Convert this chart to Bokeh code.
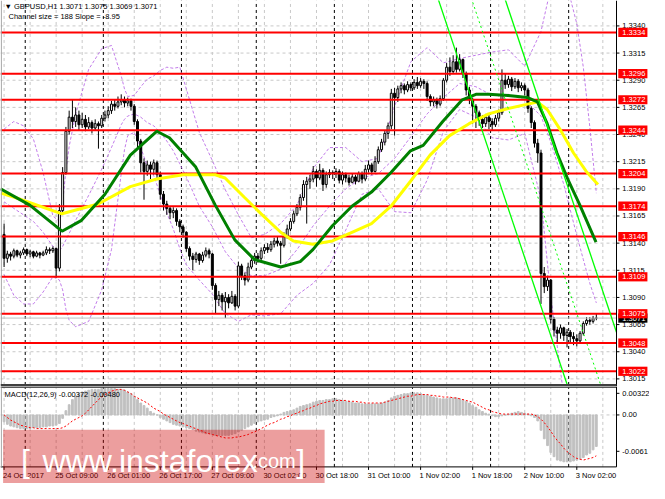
from bokeh.plotting import figure
from bokeh.models import Range1d, ColumnDataSource
from bokeh.layouts import column
from bokeh.core.properties import value
from bokeh.embed import file_html
from bokeh.resources import INLINE

FONT = "Liberation Sans"
FS = "7.5px"

# ---------------- data ----------------
symbol_title = "\u25BC GBPUSD,H1  1.3071 1.3075 1.3069 1.3071"
channel_title = "Channel size = 188 Slope = -8.95"
macd_title = "MACD(12,26,9) -0.00372 -0.00480"

# prices in pips above 1.3000
first_open_pips = 148
close_pips = [126, 130, 128, 133, 129, 131, 134, 130, 132, 128, 131, 129, 131, 134, 133, 135, 117, 170, 205, 243,
              256, 252, 258, 249, 254, 247, 251, 246, 250, 248, 255, 258, 262, 268, 266, 270, 272, 269, 271, 266,
              252, 234, 214, 206, 212, 208, 214, 203, 185, 176, 172, 168, 170, 160, 155, 150, 135, 128, 125, 130,
              124, 129, 133, 130, 101, 88, 92, 86, 90, 85, 91, 82, 119, 110, 106, 118, 124, 128, 126, 133,
              136, 134, 139, 142, 140, 138, 146, 153, 160, 167, 173, 182, 194, 197, 199, 206, 200, 207, 194, 203,
              205, 204, 206, 198, 203, 200, 196, 201, 197, 204, 199, 208, 212, 206, 215, 226, 233, 241, 248, 278,
              274, 282, 285, 281, 286, 283, 288, 285, 289, 287, 275, 270, 272, 268, 273, 290, 302, 298, 307, 300,
              309, 296, 281, 272, 266, 260, 254, 250, 256, 252, 249, 255, 260, 290, 286, 291, 284, 289, 283, 285,
              281, 264, 251, 232, 223, 112, 100, 106, 70, 60, 57, 62, 55, 58, 54, 52, 50, 57, 66, 69,
              68, 71, 71]
high_pips = [158, 133, 132, 135, 134, 133, 136, 135, 134, 133, 133, 132, 133, 137, 136, 137, 136, 176, 210, 247,
             262, 272, 265, 262, 260, 258, 256, 253, 254, 252, 258, 262, 266, 271, 272, 275, 277, 275, 274, 273,
             268, 254, 236, 218, 216, 215, 217, 216, 206, 188, 179, 174, 173, 172, 162, 157, 151, 137, 131, 132,
             131, 132, 136, 135, 131, 103, 96, 94, 95, 93, 96, 93, 123, 121, 113, 122, 127, 131, 131, 136,
             139, 140, 142, 145, 146, 142, 150, 157, 163, 170, 176, 185, 198, 201, 203, 211, 208, 213, 209, 206,
             208, 207, 209, 208, 206, 205, 203, 204, 203, 206, 206, 212, 216, 214, 220, 229, 236, 244, 251, 282,
             283, 285, 288, 287, 289, 288, 291, 293, 292, 291, 289, 277, 275, 274, 276, 292, 306, 311, 313, 320,
             314, 310, 298, 284, 274, 268, 262, 258, 259, 258, 255, 258, 263, 300, 296, 294, 293, 292, 291, 288,
             287, 283, 266, 253, 236, 226, 118, 110, 107, 72, 63, 65, 63, 61, 60, 58, 56, 59, 68, 72,
             72, 73, 75]
low_pips = [118, 122, 124, 126, 127, 126, 129, 128, 127, 126, 127, 126, 128, 129, 130, 131, 108, 114, 168, 203,
            240, 246, 247, 244, 246, 243, 245, 241, 244, 227, 246, 252, 255, 259, 262, 264, 267, 265, 266, 262,
            249, 228, 205, 180, 202, 199, 203, 198, 180, 170, 166, 162, 163, 156, 150, 145, 132, 124, 115, 122,
            120, 122, 127, 126, 97, 75, 82, 78, 71, 80, 84, 78, 80, 106, 101, 104, 116, 121, 122, 124,
            130, 131, 132, 136, 137, 121, 136, 144, 151, 158, 165, 170, 179, 158, 190, 196, 192, 198, 188, 191,
            200, 199, 200, 195, 194, 196, 193, 195, 194, 196, 195, 197, 205, 203, 205, 213, 224, 230, 236, 245,
            239, 270, 278, 277, 279, 280, 281, 282, 283, 282, 271, 266, 266, 264, 266, 271, 288, 294, 296, 297,
            298, 292, 276, 268, 250, 246, 248, 246, 247, 245, 244, 247, 252, 258, 282, 283, 280, 282, 279, 280,
            276, 260, 246, 228, 214, 84, 94, 96, 66, 54, 48, 52, 50, 44, 49, 46, 45, 48, 55, 64,
            65, 66, 69]

# MACD main / signal in units of 1e-4
macd_e4 = [-8, -11, -13, -14, -15, -16, -16, -16, -16, -15, -15, -15, -14, -14, -13, -13, -12, -10, -4, 5,
           12, 18, 22, 25, 27, 28, 29, 30, 30, 30, 31, 31, 31, 31, 31, 30, 30, 29, 27, 25,
           22, 18, 14, 11, 8, 4, 2, 0, -3, -5, -7, -9, -11, -12, -13, -14, -15, -16, -17, -19,
           -20, -21, -22, -22, -23, -24, -24, -24, -24, -24, -23, -22, -20, -18, -16, -14, -12, -10, -8, -7,
           -6, -5, -3, -2, -1, 1, 3, 4, 5, 6, 8, 10, 11, 12, 13, 15, 16, 17, 17, 18,
           18, 19, 19, 18, 17, 16, 16, 15, 14, 14, 13, 13, 13, 13, 13, 13, 14, 15, 17, 20,
           22, 23, 24, 25, 25, 26, 26, 26, 25, 24, 23, 22, 21, 20, 19, 19, 19, 20, 20, 20,
           19, 18, 16, 14, 11, 9, 6, 4, 2, 1, -1, -2, -2, -1, 0, 1, 2, 3, 4, 3,
           2, 1, -1, -3, -7, -18, -28, -36, -44, -49, -53, -54, -55, -55, -55, -54, -53, -52, -50, -47,
           -45, -41, -37]
signal_e4 = [0, -3, -6, -8, -10, -12, -13, -14, -15, -15, -16, -16, -16, -16, -16, -16, -16, -16, -15, -13,
             -10, -7, -5, -3, -1, 2, 6, 10, 14, 18, 21, 24, 26, 28, 29, 30, 30, 29, 27, 25,
             22, 20, 18, 16, 14, 11, 8, 6, 4, 1, -1, -3, -5, -7, -9, -10, -12, -13, -15, -16,
             -18, -19, -21, -22, -23, -24, -25, -26, -27, -27, -27, -26, -26, -25, -24, -23, -21, -20, -18, -16,
             -14, -12, -10, -9, -7, -5, -4, -2, -1, 1, 2, 4, 5, 7, 8, 10, 11, 13, 14, 15,
             16, 16, 17, 17, 17, 17, 16, 16, 16, 15, 15, 14, 14, 14, 14, 14, 14, 15, 16, 17,
             18, 19, 20, 21, 22, 22, 23, 24, 24, 24, 24, 23, 23, 22, 22, 21, 21, 21, 20, 20,
             19, 18, 17, 16, 15, 13, 11, 9, 7, 6, 4, 3, 2, 1, 1, 1, 1, 1, 1, 1,
             1, 1, 1, 0, -2, -5, -9, -14, -19, -25, -30, -34, -39, -43, -46, -49, -51, -52, -53, -52,
             -51, -50, -48]

# moving averages: (bar, price)
ma_green_bar = [-1.1, 7.9, 17.8, 23.8, 31, 38.8, 46.9, 50.8, 58.9, 64.9, 70.9, 76.9, 85, 91, 94.9, 100.9,
                106.9, 112.9, 118.9, 124.9, 128.8, 134.8, 140.8, 145, 148.9, 154.9, 160.9, 163.9, 166.9,
                169.9, 173.5, 176.8, 181.9]
ma_green_price = [1.3190, 1.3175, 1.3151, 1.3161, 1.3185, 1.3221, 1.3243, 1.3237, 1.3210, 1.3175, 1.3143,
                  1.3125, 1.3118, 1.3123, 1.3134, 1.3156, 1.3174, 1.3187, 1.3205, 1.3225, 1.3230, 1.3252,
                  1.3272, 1.3277, 1.3277, 1.3276, 1.3274, 1.3270, 1.3250, 1.3223, 1.3197, 1.3176, 1.3141]
ma_yellow_bar = [-1.0, 3.4, 17.8, 28.9, 38.8, 46.9, 55, 64.9, 67.9, 73.9, 79, 85, 88.9, 94.9, 100.9, 106.9,
                 112.9, 118.9, 124.9, 130.9, 136.9, 142.9, 148.9, 154.9, 160.9, 163.9, 166.9, 170.8, 175,
                 178.9, 182.5]
ma_yellow_price = [1.3186, 1.3182, 1.3167, 1.3176, 1.3192, 1.3199, 1.3203, 1.3203, 1.3200, 1.3182, 1.3167,
                   1.3150, 1.3142, 1.3139, 1.3142, 1.3150, 1.3158, 1.3174, 1.3197, 1.3221, 1.3239, 1.3250,
                   1.3259, 1.3264, 1.3268, 1.3270, 1.3263, 1.3245, 1.3223, 1.3206, 1.3194]

# bollinger-type bands (violet dotted)
bb_bar = [0, 3, 6, 9, 12, 15, 17, 18, 19, 20, 22, 26, 30, 33, 36, 37, 38, 40, 42, 44, 46, 48, 50, 52, 54, 56,
          60, 64, 68, 72, 76, 80, 85, 90, 95, 100, 105, 110, 115, 120, 125, 130, 135, 140, 145, 150, 155, 160,
          165, 168, 172, 176, 178, 180, 182]
bb_upper = [1.3245, 1.3252, 1.3248, 1.3236, 1.3205, 1.3165, 1.3160, 1.3177, 1.3207, 1.3229, 1.3259, 1.3300,
            1.3319, 1.3322, 1.3294, 1.3282, 1.3275, 1.3276, 1.3284, 1.3291, 1.3294, 1.3299, 1.3302, 1.3301,
            1.3302, 1.3282, 1.3242, 1.3216, 1.3189, 1.3166, 1.3145, 1.3148, 1.3158, 1.3175, 1.3209, 1.3228,
            1.3228, 1.3215, 1.3218, 1.3266, 1.3307, 1.3320, 1.3306, 1.3310, 1.3313, 1.3316, 1.3318, 1.3303,
            1.3335, 1.3375, 1.3389, 1.3342, 1.3302, 1.3247, 1.3186]
bb_middle = [1.3178, 1.3172, 1.3166, 1.3160, 1.3150, 1.3137, 1.3133, 1.3137, 1.3143, 1.3149, 1.3161, 1.3184,
             1.3208, 1.3228, 1.3249, 1.3254, 1.3257, 1.3259, 1.3256, 1.3251, 1.3248, 1.3242, 1.3234, 1.3225,
             1.3213, 1.3201, 1.3174, 1.3155, 1.3132, 1.3117, 1.3110, 1.3110, 1.3116, 1.3134, 1.3156, 1.3174,
             1.3190, 1.3200, 1.3204, 1.3218, 1.3238, 1.3259, 1.3274, 1.3287, 1.3284, 1.3276, 1.3277, 1.3272,
             1.3257, 1.3233, 1.3194, 1.3147, 1.3125, 1.3103, 1.3085]
bb_lower = [1.3111, 1.3092, 1.3084, 1.3084, 1.3095, 1.3109, 1.3106, 1.3097, 1.3079, 1.3069, 1.3063, 1.3068,
            1.3097, 1.3134, 1.3204, 1.3226, 1.3239, 1.3242, 1.3228, 1.3211, 1.3202, 1.3185, 1.3168, 1.3153,
            1.3135, 1.3120, 1.3106, 1.3093, 1.3075, 1.3068, 1.3074, 1.3073, 1.3075, 1.3092, 1.3103, 1.3120,
            1.3152, 1.3185, 1.3190, 1.3169, 1.3168, 1.3198, 1.3243, 1.3263, 1.3256, 1.3237, 1.3235, 1.3241,
            1.3180, 1.3091, 1.2999, 1.2952, 1.2948, 1.2959, 1.2984]

# regression channel (middle line end points, half width)
channel_bars = [125.0, 188.2]
channel_mid = [1.3532, 1.2966]
channel_half = 0.0092

level_prices = [1.3334, 1.3296, 1.3272, 1.3244, 1.3204, 1.3174, 1.3146, 1.3109, 1.3075, 1.3048, 1.3022]
bid_price = 1.3071
price_ticks = [1.3015, 1.3040, 1.3065, 1.3090, 1.3115, 1.3140, 1.3165, 1.3190, 1.3215, 1.3240, 1.3265,
               1.3290, 1.3315, 1.3340]
time_label_bars = [0, 16, 32, 48, 64, 80, 96, 112, 128, 144, 160, 176]
time_labels = ["24 Oct 2017", "25 Oct 09:00", "26 Oct 01:00", "26 Oct 17:00", "27 Oct 09:00",
               "30 Oct 02:00", "30 Oct 18:00", "31 Oct 10:00", "1 Nov 02:00", "1 Nov 18:00",
               "2 Nov 10:00", "3 Nov 02:00"]
grid_bars = [0, 8, 16, 24, 32, 40, 48, 56, 64, 72, 80, 88, 96, 104, 112, 120, 128, 136, 144, 152, 160,
             168, 176, 184]
day_start_bars = [7, 31, 55, 78, 102, 126, 150, 174]
macd_top, macd_bottom = 0.00322, -0.0061
macd_label_vals = [0.00254, 0.0, -0.00427]
macd_label_txt = ["0.00322", "0.00", "-0.0061"]
watermark_parts = ["[", "www.instaforex", ".com", "]"]

# ---------------- layout constants (screen geometry) ----------------
XL, XC, XE = -1.1, 188.2, 198.34        # figure left, chart right edge, figure right (bars)
LBL_X = 190.0                           # axis label text start
BOX_L, BOX_R = 188.75, 197.7            # level label boxes
P_TOP, P_BOT = 1.33634, 1.30080         # main figure price range
P_CHART_BOT = 1.30094
PX_PRICE = 10861.0                      # px per price unit
M_TOP, M_BOT = 0.00334, -0.00805        # macd figure range
PX_MACD = 8519.0
GRID = "#C8C8C8"
VIOLET = "#B765E6"

# ---------------- main price panel ----------------
n = len(close_pips)
bars = list(range(n))
opens = [1.3 + first_open_pips / 1e4] + [1.3 + c / 1e4 for c in close_pips[:-1]]
closes = [1.3 + c / 1e4 for c in close_pips]
highs = [1.3 + h / 1e4 for h in high_pips]
lows = [1.3 + l / 1e4 for l in low_pips]
src = ColumnDataSource(dict(
    x=bars, high=highs, low=lows,
    top=[max(o, c) for o, c in zip(opens, closes)],
    bottom=[min(o, c) for o, c in zip(opens, closes)],
    fill=["white" if c >= o else "black" for o, c in zip(opens, closes)],
))

XRANGE = Range1d(XL, XE)
main = figure(x_range=XRANGE, y_range=Range1d(P_BOT, P_TOP), width=649, height=386,
              output_backend="svg", toolbar_location=None, x_axis_location=None, y_axis_location=None,
              min_border=0, min_border_left=0, min_border_right=0, min_border_top=0, min_border_bottom=0,
              background_fill_color="white", border_fill_color="white", outline_line_color=None)
main.grid.visible = False

# grid
main.segment(x0=XL, x1=XC, y0=price_ticks, y1=price_ticks, line_color=GRID, line_dash="3 3", line_width=1)
main.segment(x0=grid_bars, x1=grid_bars, y0=P_CHART_BOT, y1=P_TOP, line_color=GRID, line_dash="3 3",
             line_width=1)
sep_x = [b - 0.5 for b in day_start_bars]
main.segment(x0=sep_x, x1=sep_x, y0=P_CHART_BOT, y1=P_TOP, line_color="black", line_dash="3 3", line_width=1)

# bands
for band in (bb_upper, bb_middle, bb_lower):
    main.line(bb_bar, band, line_color=VIOLET, line_width=1, line_dash="3 2", line_alpha=0.85)

# candles
main.segment(x0="x", y0="low", x1="x", y1="high", source=src, line_color="black", line_width=1)
main.vbar(x="x", width=0.6, top="top", bottom="bottom", fill_color="fill", line_color="black",
          line_width=1, source=src)

# horizontal levels
main.segment(x0=XL, x1=XC, y0=level_prices, y1=level_prices, line_color="#FF0000", line_width=2)
main.segment(x0=XL, x1=XC, y0=[bid_price], y1=[bid_price], line_color="#C0C0C0", line_width=1)

# moving averages
main.line(ma_yellow_bar, ma_yellow_price, line_color="#FFFF00", line_width=3)
main.line(ma_green_bar, ma_green_price, line_color="#008000", line_width=3)

# regression channel
upper = [m + channel_half for m in channel_mid]
lower = [m - channel_half for m in channel_mid]
main.line(channel_bars, upper, line_color="#00FF00", line_width=1.3)
main.line(channel_bars, lower, line_color="#00FF00", line_width=1.3)
main.line(channel_bars, channel_mid, line_color="#00FF00", line_width=1, line_dash="2 3")

# frame lines
main.segment(x0=[XC], x1=[XC], y0=P_BOT, y1=P_TOP, line_color="black", line_width=1)
main.segment(x0=[XL + 0.25], x1=[XL + 0.25], y0=P_CHART_BOT, y1=P_TOP, line_color="#A0A0A0", line_width=1)
main.segment(x0=XL, x1=XC, y0=[P_CHART_BOT], y1=[P_CHART_BOT], line_color="#404040", line_width=2)

# price axis
main.segment(x0=XC, x1=XC + 0.9, y0=price_ticks, y1=price_ticks, line_color="black", line_width=1)
main.text(x=LBL_X, y=price_ticks, text=[f"{t:.4f}" for t in price_ticks], text_font=value(FONT),
          text_font_size=FS, text_color="black", text_baseline="middle", text_align="left")

# bid box then level boxes
half = 4.6 / PX_PRICE
main.quad(left=BOX_L, right=BOX_R, top=[bid_price + half], bottom=[bid_price - half], fill_color="black",
          line_color=None)
main.text(x=LBL_X, y=[bid_price], text=[f"{bid_price:.4f}"], text_font=value(FONT), text_font_size=FS,
          text_color="white", text_baseline="middle", text_align="left")
main.quad(left=BOX_L, right=BOX_R, top=[p + half for p in level_prices], bottom=[p - half for p in level_prices],
          fill_color="#FF0000", line_color=None)
main.text(x=LBL_X, y=level_prices, text=[f"{p:.4f}" for p in level_prices], text_font=value(FONT),
          text_font_size=FS, text_color="white", text_baseline="middle", text_align="left")

# titles
main.text(x=[XL], y=[P_TOP], x_offset=4, y_offset=1, text=[symbol_title], text_font=value(FONT),
          text_font_size=FS, text_color="black", text_baseline="top", text_align="left")
main.text(x=[XL], y=[P_TOP], x_offset=8, y_offset=11, text=[channel_title], text_font=value(FONT),
          text_font_size=FS, text_color="black", text_baseline="top", text_align="left")

# ---------------- MACD panel ----------------
macd = [v / 1e4 for v in macd_e4]
signal = [v / 1e4 for v in signal_e4]
mf = figure(x_range=XRANGE, y_range=Range1d(M_BOT, M_TOP), width=649, height=97,
            output_backend="svg", toolbar_location=None, x_axis_location=None, y_axis_location=None,
            min_border=0, min_border_left=0, min_border_right=0, min_border_top=0, min_border_bottom=0,
            background_fill_color="white", border_fill_color="white", outline_line_color=None)
mf.grid.visible = False

mf.segment(x0=XL, x1=XC, y0=[0.0], y1=[0.0], line_color=GRID, line_dash="3 3", line_width=1)
mf.segment(x0=grid_bars, x1=grid_bars, y0=macd_bottom, y1=macd_top, line_color=GRID, line_dash="3 3",
           line_width=1)
mf.segment(x0=sep_x, x1=sep_x, y0=macd_bottom, y1=macd_top, line_color="black", line_dash="3 3", line_width=1)

mf.vbar(x=bars, top=macd, bottom=0, width=0.55, fill_color="#C0C0C0", line_color="#C0C0C0")
mf.line(bars, signal, line_color="#FF0000", line_width=1, line_dash="2 2")

# frame lines
mf.segment(x0=XL, x1=XC, y0=[macd_top + 0.6 / PX_MACD], y1=[macd_top + 0.6 / PX_MACD], line_color="#202020",
           line_width=1.5)
mf.segment(x0=XL, x1=XC, y0=[macd_bottom], y1=[macd_bottom], line_color="black", line_width=1)
mf.segment(x0=[XC], x1=[XC], y0=macd_bottom, y1=M_TOP, line_color="black", line_width=1)
mf.segment(x0=[XL + 0.25], x1=[XL + 0.25], y0=macd_bottom, y1=macd_top, line_color="#A0A0A0", line_width=1)

# macd axis
mf.segment(x0=XC, x1=XC + 0.9, y0=macd_label_vals, y1=macd_label_vals, line_color="black", line_width=1)
mf.text(x=LBL_X, y=macd_label_vals, text=macd_label_txt, text_font=value(FONT), text_font_size=FS,
        text_color="black", text_baseline="middle", text_align="left")

# time axis
tick_len = 3 / PX_MACD
mf.segment(x0=time_label_bars, x1=time_label_bars, y0=macd_bottom, y1=macd_bottom - tick_len,
           line_color="black", line_width=1)
mf.text(x=time_label_bars, y=macd_bottom - 8.7 / PX_MACD, x_offset=-1, text=time_labels, text_font=value(FONT),
        text_font_size=FS, text_color="black", text_baseline="middle", text_align="left")

mf.text(x=[XL], y=[macd_top], x_offset=4, y_offset=2, text=[macd_title], text_font=value(FONT),
        text_font_size=FS, text_color="black", text_baseline="top", text_align="left")

# watermark
mf.quad(left=[-0.3], right=[98.5], top=[-0.00175], bottom=[M_BOT - 0.001], fill_color="#CC0000",
        fill_alpha=0.38, line_color=None)
wm_y = -0.00543
mf.text(x=[5.2, 11.8, 76.3, 89.8], y=[wm_y] * 4, text=watermark_parts, text_font=value(FONT),
        text_font_size=["32px", "32px", "20px", "32px"], text_color="white", text_baseline="alphabetic",
        text_align="left")

layout = column(main, mf, spacing=0)
open("out.html", "w").write(file_html(layout, INLINE))
